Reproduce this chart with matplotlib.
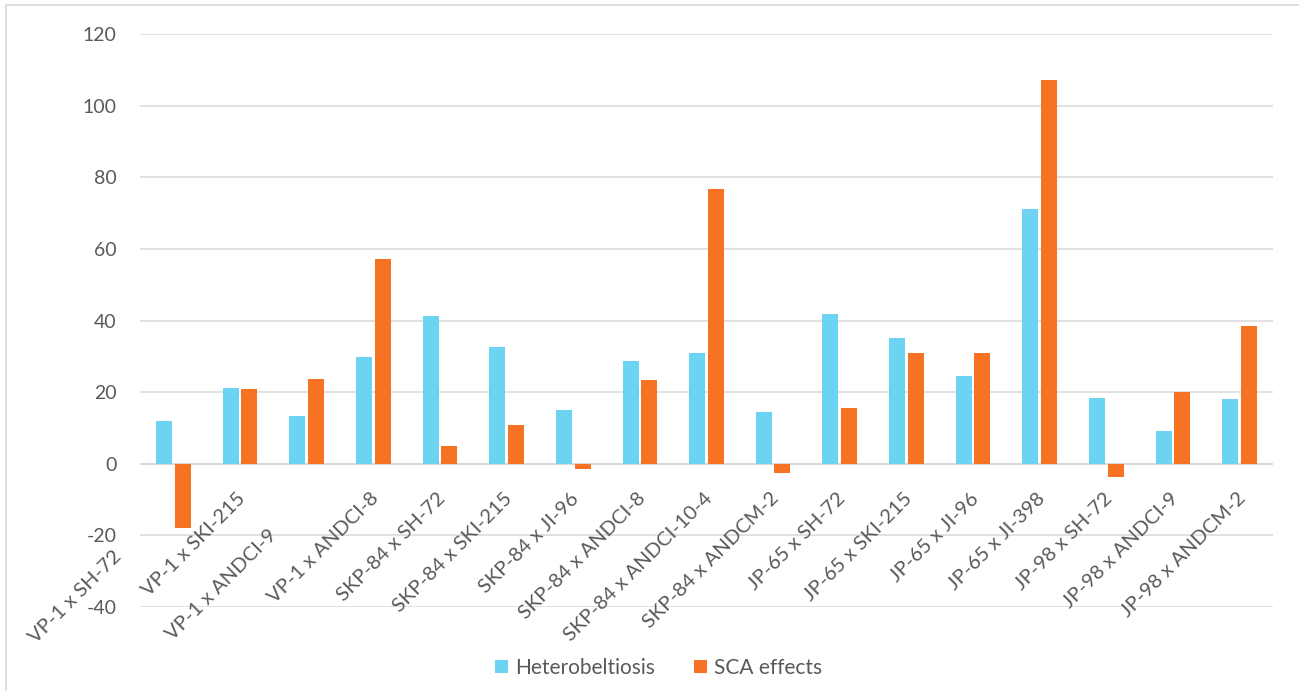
import matplotlib
matplotlib.use("Agg")
import matplotlib.pyplot as plt
import matplotlib.transforms as mtransforms
from matplotlib.patches import Rectangle
import numpy as np

# ---- data ----
crosses = [
    "VP-1 x SH-72" + " " * 16, "VP-1 x SKI-215", "VP-1 x ANDCI-9" + " " * 10, "VP-1 x ANDCI-8",
    "SKP-84 x SH-72", "SKP-84 x SKI-215", "SKP-84 x JI-96", "SKP-84 x ANDCI-8",
    "SKP-84 x ANDCI-10-4", "SKP-84 x ANDCM-2", "JP-65 x SH-72", "JP-65 x SKI-215",
    "JP-65 x JI-96", "JP-65 x JI-398", "JP-98 x SH-72", "JP-98 x ANDCI-9",
    "JP-98 x ANDCM-2",
]
heterobeltiosis = [11.8, 21.1, 13.4, 29.8, 41.2, 32.6, 14.9, 28.6, 30.8,
                   14.5, 41.9, 35.1, 24.4, 71.0, 18.3, 9.1, 18.0]
sca_effects = [-18.0, 20.9, 23.6, 57.3, 4.9, 10.7, -1.5, 23.3, 76.6,
               -2.7, 15.5, 30.8, 30.9, 107.1, -3.6, 19.9, 38.5]
series_names = ["Heterobeltiosis", "SCA effects"]
yticks = [-40, -20, 0, 20, 40, 60, 80, 100, 120]

# ---- style ----
W, H, DPI = 1299, 691, 100
FONT = "Lato"
TXT = "#595959"
GRID = "#D9D9D9"
C_HET = "#6DD3F3"
C_SCA = "#F57322"

fig = plt.figure(figsize=(W / DPI, H / DPI), dpi=DPI)
fig.patch.set_facecolor("white")
fig.patches.append(Rectangle((6 / W, -0.1), 1.2, 1.1 - 5 / H, transform=fig.transFigure,
                             fill=False, edgecolor=GRID, linewidth=1.2))

ax = fig.add_axes([140 / W, 1 - 607 / H, 1133 / W, 573 / H])
x = np.arange(len(crosses))
bw = 0.24
off = 0.14
ax.bar(x - off, heterobeltiosis, width=bw, color=C_HET, label=series_names[0], zorder=3)
ax.bar(x + off, sca_effects, width=bw, color=C_SCA, label=series_names[1], zorder=3)

ax.set_xlim(-0.5, len(crosses) - 0.5)
ax.set_ylim(yticks[0], yticks[-1])
ax.set_yticks(yticks)
ax.set_yticklabels([str(v) for v in yticks], fontsize=14, color=TXT, family=FONT)
ax.tick_params(axis="y", length=0, pad=17)
ax.set_xticks([])
for s in ax.spines.values():
    s.set_visible(False)
ax.grid(axis="y", color=GRID, linewidth=1.1, zorder=0)
ax.set_axisbelow(True)
ax.axhline(0, color=GRID, linewidth=1.5, zorder=2)

# category labels next to the zero axis, rotated 45 degrees
trans = mtransforms.offset_copy(ax.transData, fig=fig, x=3, y=-32, units="dots")
for xi, lab in zip(x, crosses):
    ax.text(xi, 0, lab, transform=trans, rotation=45, rotation_mode="anchor",
            ha="right", va="center", fontsize=14.5, color=TXT, family=FONT)

leg = fig.legend(loc="center", bbox_to_anchor=(0.507, 1 - 668 / H), ncol=2, frameon=False,
                 handlelength=0.6, handleheight=0.6, handletextpad=0.35, columnspacing=1.9,
                 prop={"family": FONT, "size": 15})
for t in leg.get_texts():
    t.set_color(TXT)

fig.savefig("out.png", dpi=DPI, facecolor="white")
